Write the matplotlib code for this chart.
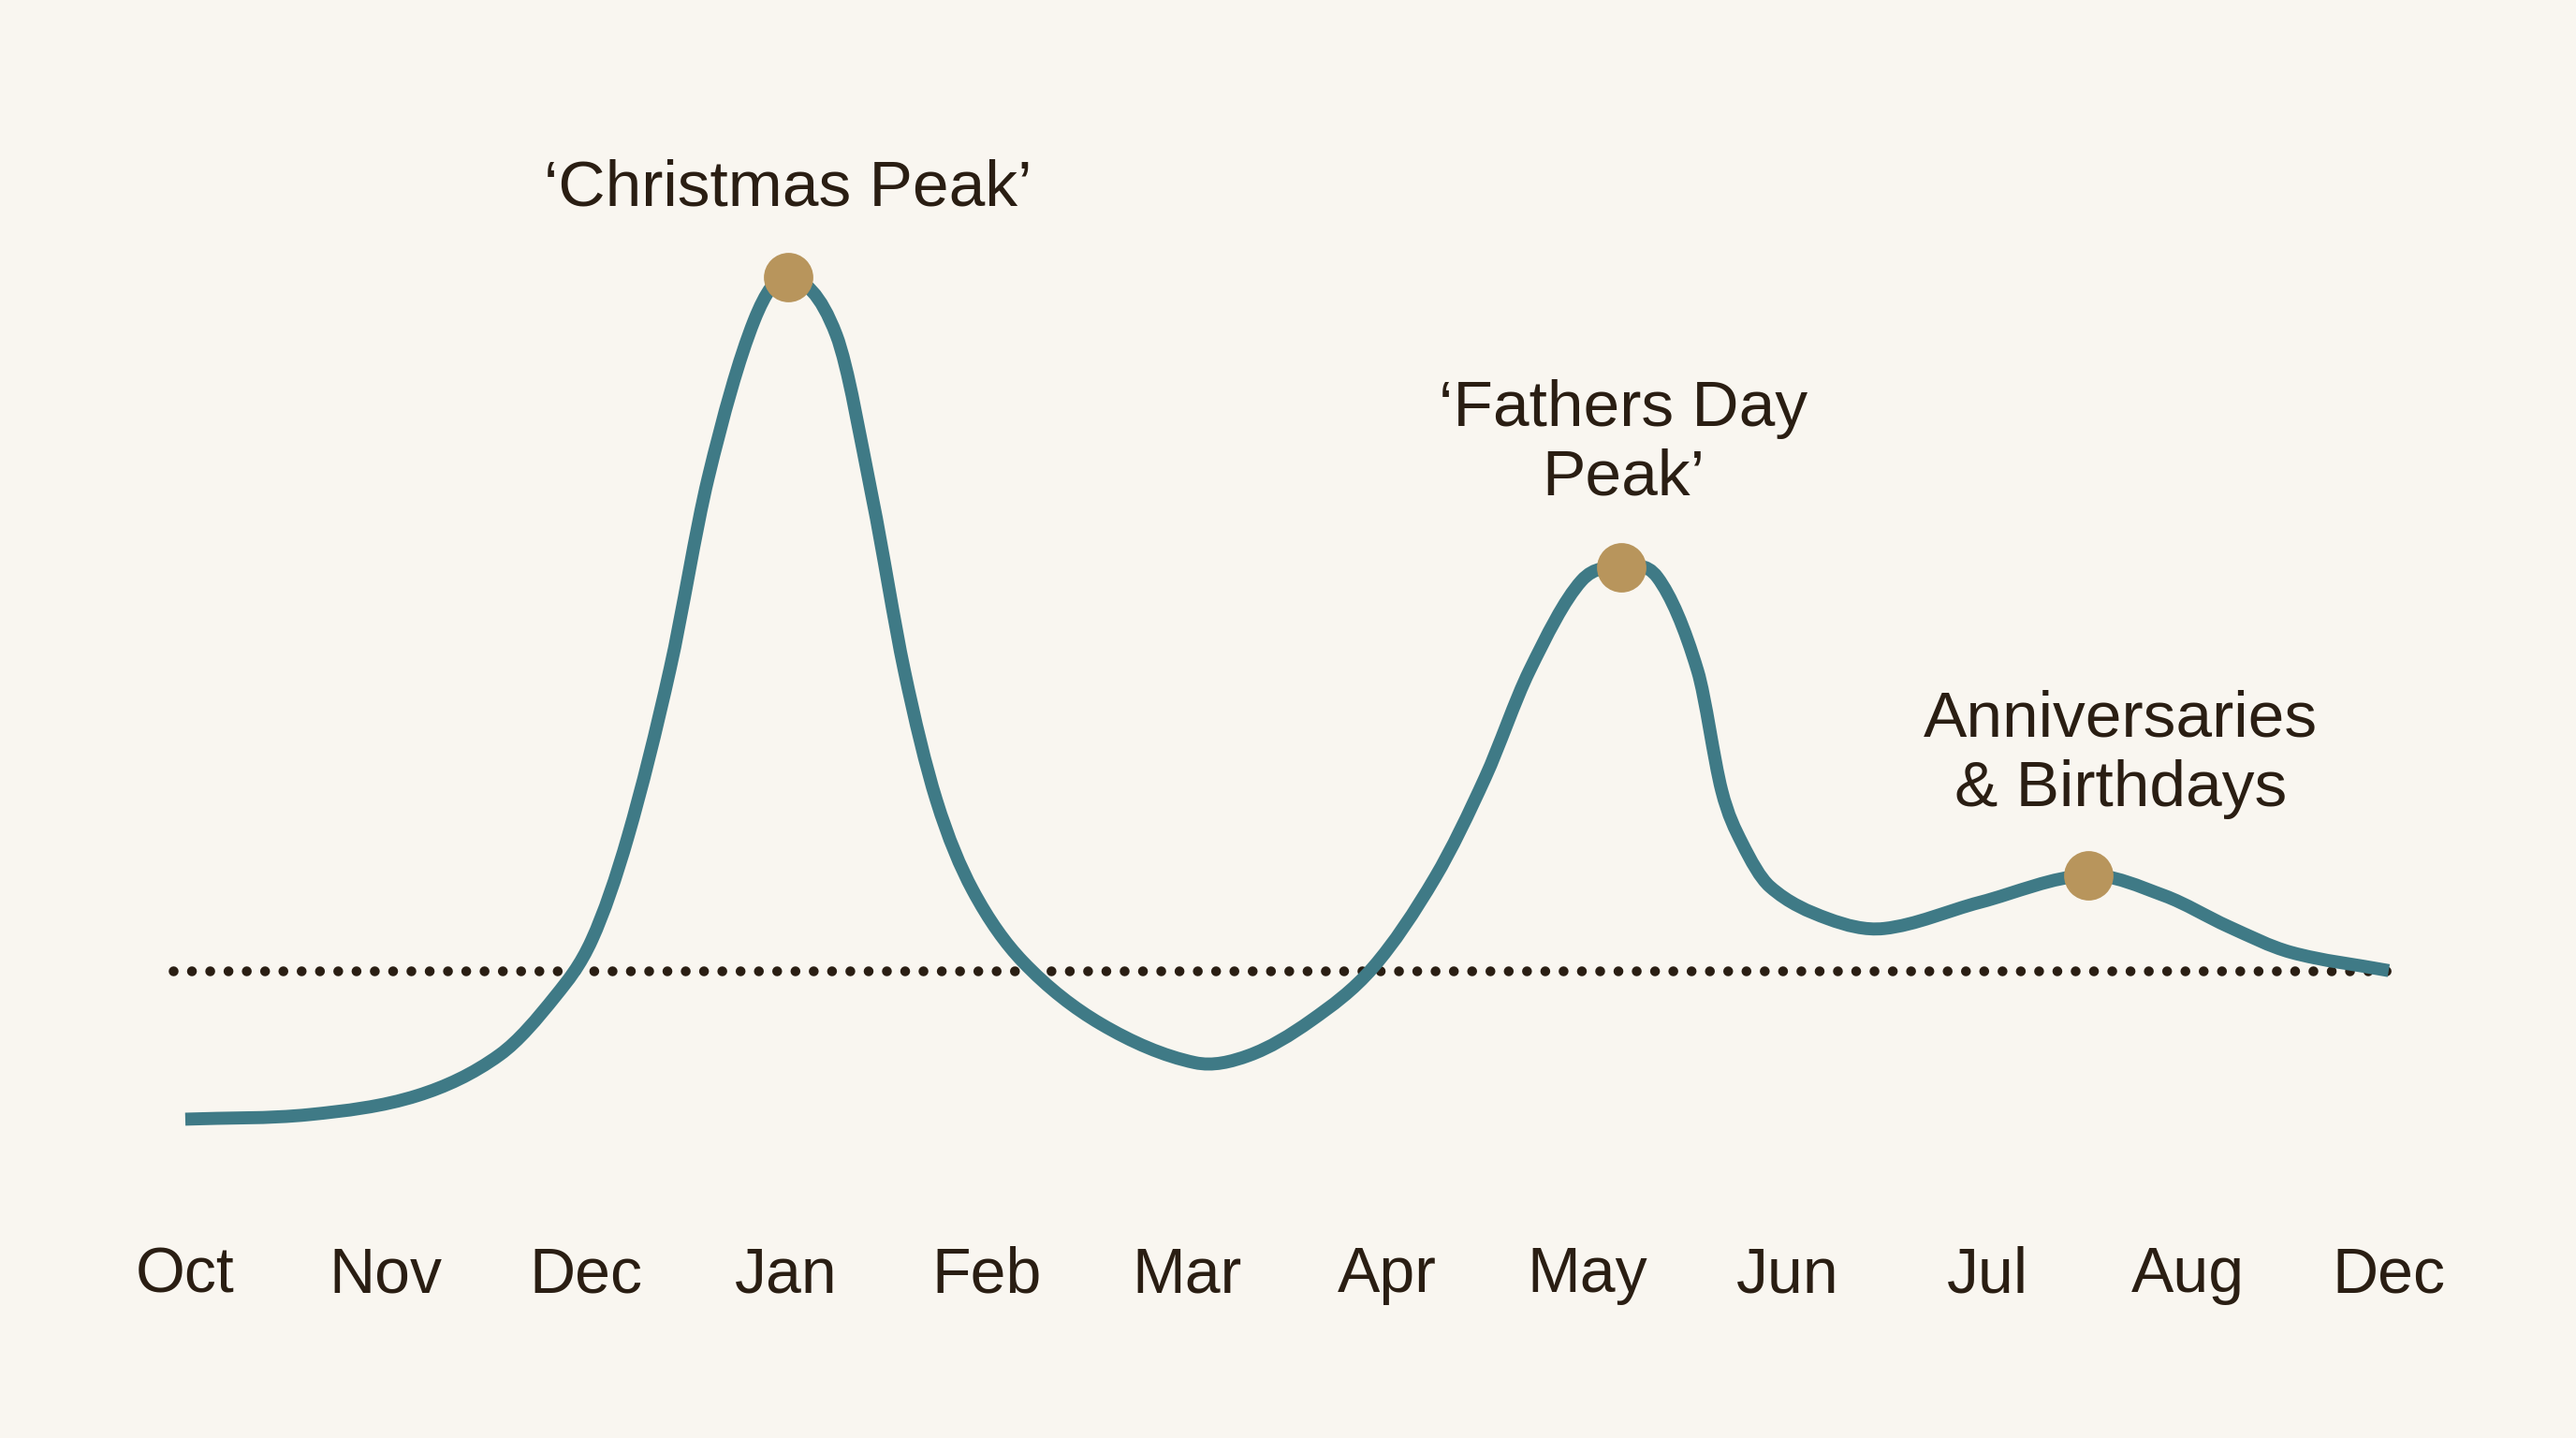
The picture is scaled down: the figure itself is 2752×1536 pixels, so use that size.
"""
Seasonal demand curve with annotated peaks (recreated static figure).
"""
import matplotlib
matplotlib.use("Agg")
import matplotlib.pyplot as plt
from matplotlib.path import Path
from matplotlib.patches import PathPatch

BG = "#f9f6f0"
TEAL = "#3f7a86"
GOLD = "#b8955c"
INK = "#2a1e13"

plt.rcParams.update({"font.family": ["Liberation Sans", "DejaVu Sans"],
                     "figure.facecolor": BG, "axes.facecolor": BG,
                     "savefig.facecolor": BG})

# month labels along the bottom (12 slots, last one repeats Dec)
months = ["Oct", "Nov", "Dec", "Jan", "Feb", "Mar", "Apr", "May", "Jun", "Jul", "Aug", "Dec"]

# demand index (100 = average, dotted line)
pos = [0.00, 0.62, 1.16, 1.57, 1.85, 2.03, 2.21, 2.42, 2.61, 2.84, 3.01, 3.25, 3.43,
       3.59, 3.75, 3.93, 4.18, 4.57, 5.04, 5.31, 5.62, 5.93, 6.24, 6.49, 6.71, 6.97,
       7.17, 7.35, 7.55, 7.67, 7.77, 7.91, 8.20, 8.48, 8.96, 9.50, 9.88, 10.20, 10.51,
       11.00]
demand = [77.5, 78.2, 81.1, 87.3, 96.3, 104.8, 120.5, 146.0, 175.0, 199.0, 205.6, 196.8, 172.0,
          145.7, 126.0, 112.4, 101.5, 92.0, 86.1, 87.2, 92.5, 100.6, 114.3, 129.5, 145.7, 159.4,
          161.4, 159.9, 145.7, 127.5, 119.6, 112.9, 108.0, 106.5, 110.5, 114.6, 111.5, 106.8, 102.9,
          100.1]
average = 100

# highlighted peaks
peak_pos = [3.01, 7.17, 9.50]
peak_val = [205.6, 161.4, 114.6]
peak_text = ["\u2018Christmas Peak\u2019", "\u2018Fathers Day\nPeak\u2019", "Anniversaries\n& Birthdays"]
text_pos = [3.01, 7.18, 9.66]
text_val = [219.0, 180.3, 133.0]


def smooth_path(xs, ys):
    # cubic hermite through the read points (finite-difference slopes), as bezier segments
    n = len(xs)
    m = []
    for i in range(n):
        a, b = max(i - 1, 0), min(i + 1, n - 1)
        m.append((ys[b] - ys[a]) / (xs[b] - xs[a]))
    verts, codes = [(xs[0], ys[0])], [Path.MOVETO]
    for i in range(n - 1):
        h = (xs[i + 1] - xs[i]) / 3
        verts += [(xs[i] + h, ys[i] + m[i] * h),
                  (xs[i + 1] - h, ys[i + 1] - m[i + 1] * h), (xs[i + 1], ys[i + 1])]
        codes += [Path.CURVE4] * 3
    return Path(verts, codes)


fig = plt.figure(figsize=(13.76, 7.68), dpi=200)
ax = fig.add_axes([0, 0, 1, 1])
ax.set_xlim(-0.925, 11.935)
ax.set_ylim(29, 247.75)
ax.axis("off")

ax.hlines(average, -0.06, 11.05, color=INK, lw=3.8, linestyles=[(0, (0.001, 1.85))],
          capstyle="round", zorder=2)
ax.add_patch(PathPatch(smooth_path(pos, demand), facecolor="none", edgecolor=TEAL,
                       lw=5.0, capstyle="butt", joinstyle="round", zorder=3))
ax.plot(peak_pos, peak_val, "o", color=GOLD, ms=19, mec="none", zorder=4)

for x, y, t in zip(text_pos, text_val, peak_text):
    ax.text(x, y, t, ha="center", va="center", fontsize=25, color=INK, linespacing=1.2)

for i, m in enumerate(months):
    ax.text(i, 53.75, m, ha="center", va="center", fontsize=24.5, color=INK)

fig.savefig("out.png", dpi=200)
